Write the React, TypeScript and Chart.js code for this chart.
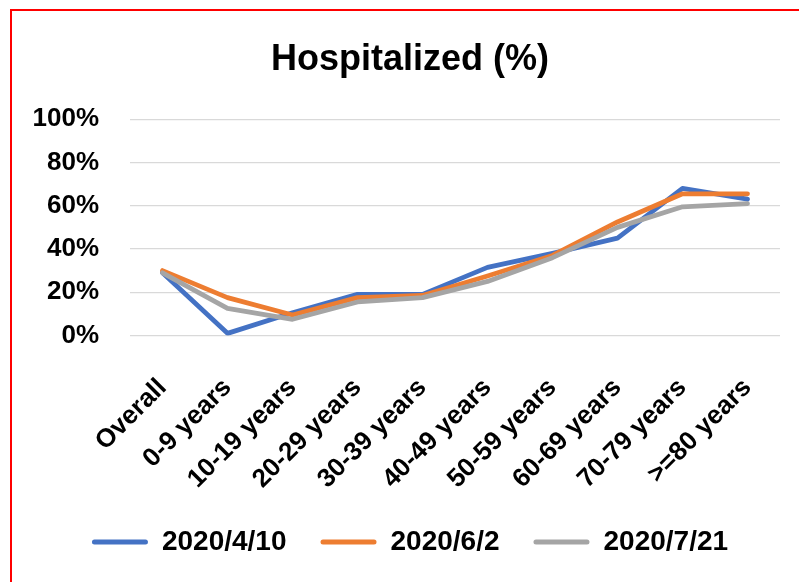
import React, { useEffect, useRef } from "react";
import { Chart, registerables } from "chart.js";

Chart.register(...registerables);

const categories = [
  "Overall",
  "0-9 years",
  "10-19 years",
  "20-29 years",
  "30-39 years",
  "40-49 years",
  "50-59 years",
  "60-69 years",
  "70-79 years",
  ">=80 years",
];

const seriesNames = ["2020/4/10", "2020/6/2", "2020/7/21"];
const apr10 = [29, 1, 10.5, 19, 19, 31.5, 38, 45, 68, 63];
const jun2 = [30, 17.5, 9.5, 17.5, 18.5, 27.5, 37, 52.5, 65.5, 65.5];
const jul21 = [29, 12.5, 7.5, 15.5, 17.5, 25, 36, 50, 59.5, 61];
const yTicks = [0, 20, 40, 60, 80, 100];

const colors = ["#4472C4", "#ED7D31", "#A5A5A5"];
const FONT = "'Liberation Sans', Arial, sans-serif";

// shift title and legend so they are centred like the original
const shiftBlocks = {
  id: "shiftBlocks",
  afterLayout(chart: any) {
    if (chart.titleBlock) chart.titleBlock.left = 40;
    if (chart.legend) chart.legend.left = 40;
  },
};

export default function App() {
  const ref = useRef<HTMLCanvasElement | null>(null);

  useEffect(() => {
    if (!ref.current) return;
    const values = [apr10, jun2, jul21];
    const chart = new Chart(ref.current, {
      type: "line",
      data: {
        labels: categories,
        datasets: values.map((v, i) => ({
          label: seriesNames[i],
          data: v,
          borderColor: colors[i],
          backgroundColor: colors[i],
          borderWidth: 4.8,
          pointRadius: 0,
          pointHoverRadius: 0,
          tension: 0,
          borderJoinStyle: "round" as const,
          borderCapStyle: "round" as const,
          order: 2 - i,
        })),
      },
      plugins: [shiftBlocks],
      options: {
        animation: false,
        responsive: false,
        devicePixelRatio: 1,
        layout: { padding: { left: 0, right: 19, top: 0, bottom: 16 } },
        plugins: {
          tooltip: { enabled: false },
          title: {
            display: true,
            text: "Hospitalized (%)",
            color: "#000",
            font: { family: FONT, size: 36, weight: "bold", lineHeight: 1.2 },
            padding: { top: 38, bottom: 38 },
          },
          legend: {
            position: "bottom",
            labels: {
              color: "#000",
              font: { family: FONT, size: 28, weight: "bold" },
              boxWidth: 56,
              boxHeight: 5,
              padding: 34,
              useBorderRadius: true,
              borderRadius: 2.5,
              generateLabels: (c: any) =>
                Chart.defaults.plugins.legend.labels
                  .generateLabels(c)
                  .sort((a: any, b: any) => a.datasetIndex - b.datasetIndex)
                  .map((l: any) => ({ ...l, lineWidth: 0 })),
            },
          },
        },
        scales: {
          x: {
            offset: true,
            grid: { display: false, drawTicks: false },
            border: { display: false },
            ticks: {
              color: "#000",
              font: { family: FONT, size: 26, weight: "bold" },
              minRotation: 45,
              maxRotation: 45,
              autoSkip: false,
              padding: 37,
            },
            afterFit: (s: any) => {
              s.height = 158.5;
              s.paddingRight = 0;
            },
          },
          y: {
            min: 0,
            max: 100,
            grid: { color: "#D9D9D9", lineWidth: 1.3, drawTicks: false },
            border: { display: false },
            afterBuildTicks: (s: any) => {
              s.ticks = yTicks.map((v) => ({ value: v }));
            },
            ticks: {
              color: "#000",
              font: { family: FONT, size: 26, weight: "bold" },
              padding: 31,
              callback: (v: any) => v + "%",
            },
            afterFit: (s: any) => {
              s.width = 130;
            },
          },
        },
      },
    });
    return () => chart.destroy();
  }, []);

  return (
    <div
      style={{
        position: "fixed",
        left: 0,
        top: 0,
        width: 799,
        height: 582,
        background: "#fff",
        overflow: "hidden",
      }}
    >
      <div
        style={{
          position: "absolute",
          left: 10,
          top: 9,
          width: 820,
          height: 620,
          border: "2px solid #FF0000",
          boxSizing: "border-box",
        }}
      />
      <canvas
        ref={ref}
        width={799}
        height={582}
        style={{ position: "absolute", left: 0, top: 0, width: 799, height: 582 }}
      />
    </div>
  );
}
